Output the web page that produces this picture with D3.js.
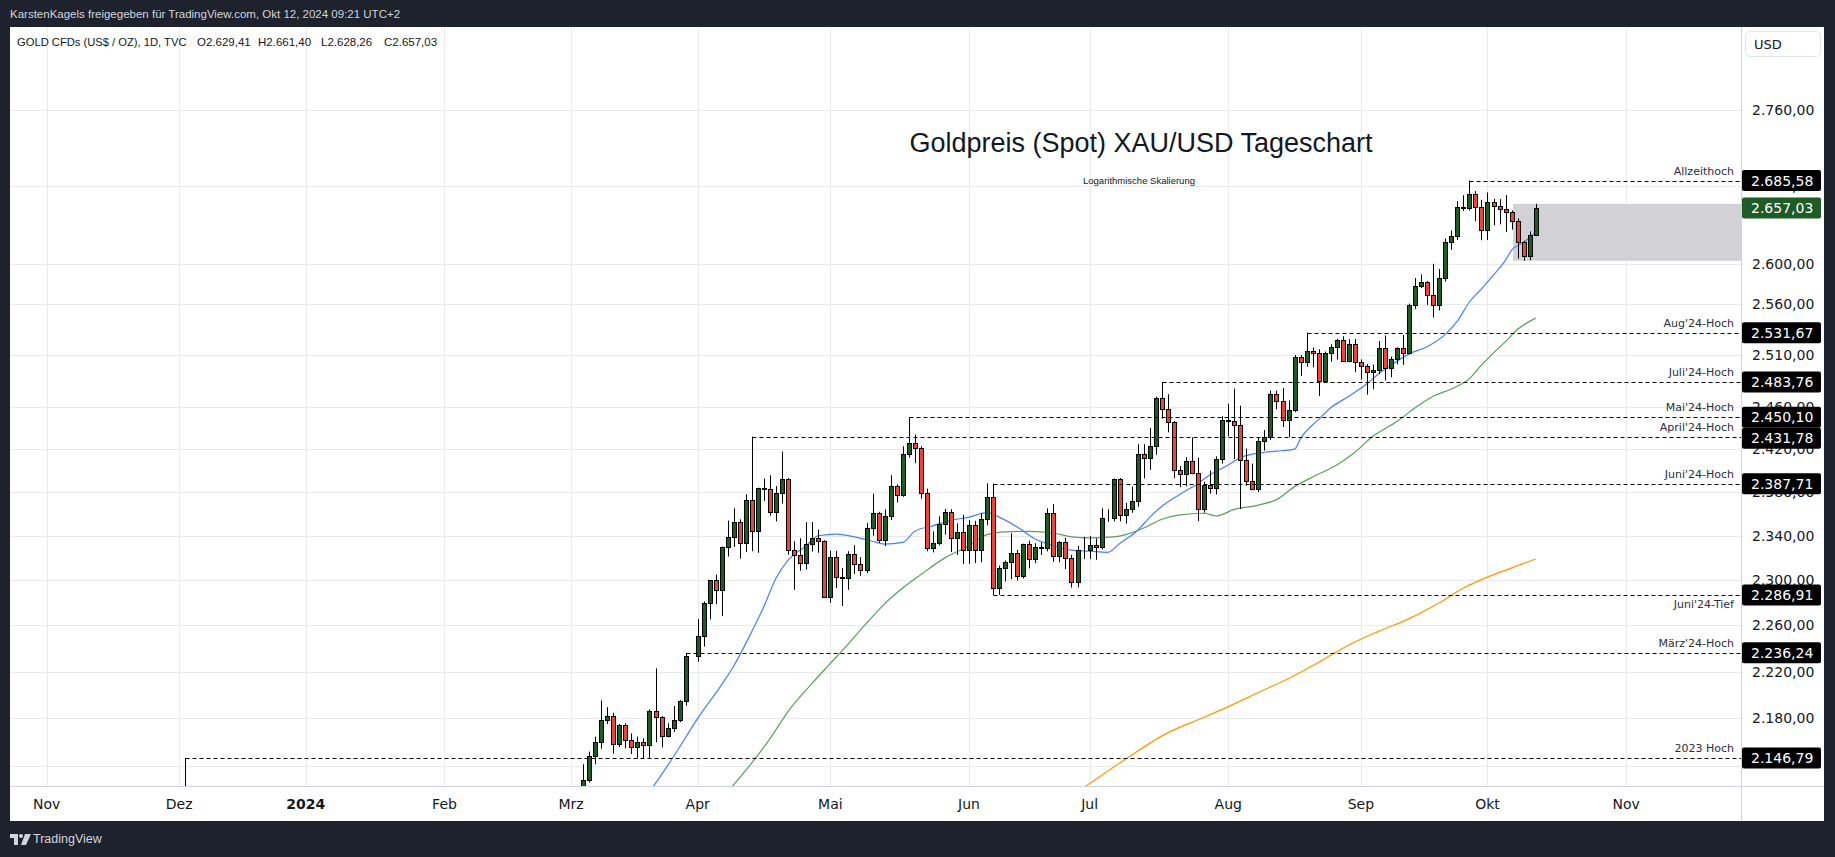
<!DOCTYPE html>
<html>
<head>
<meta charset="utf-8">
<script src="https://cdn.jsdelivr.net/npm/d3@7"></script>
<style>
  body { margin: 0; background: #1e222d; }
  svg { display: block; }
</style>
</head>
<body>
<script>
var w = 1835;
var h = 857;

// daily candles XAU/USD (TVC:GOLD)
const candleDates = [
  "2023-12-04",
  "2024-03-04","2024-03-05","2024-03-06","2024-03-07","2024-03-08",
  "2024-03-11","2024-03-12","2024-03-13","2024-03-14","2024-03-15",
  "2024-03-18","2024-03-19","2024-03-20","2024-03-21","2024-03-22",
  "2024-03-25","2024-03-26","2024-03-27","2024-03-28","2024-03-29",
  "2024-04-01","2024-04-02","2024-04-03","2024-04-04","2024-04-05",
  "2024-04-08","2024-04-09","2024-04-10","2024-04-11","2024-04-12",
  "2024-04-15","2024-04-16","2024-04-17","2024-04-18","2024-04-19",
  "2024-04-22","2024-04-23","2024-04-24","2024-04-25","2024-04-26",
  "2024-04-29","2024-04-30","2024-05-01","2024-05-02","2024-05-03",
  "2024-05-06","2024-05-07","2024-05-08","2024-05-09","2024-05-10",
  "2024-05-13","2024-05-14","2024-05-15","2024-05-16","2024-05-17",
  "2024-05-20","2024-05-21","2024-05-22","2024-05-23","2024-05-24",
  "2024-05-27","2024-05-28","2024-05-29","2024-05-30","2024-05-31",
  "2024-06-03","2024-06-04","2024-06-05","2024-06-06","2024-06-07",
  "2024-06-10","2024-06-11","2024-06-12","2024-06-13","2024-06-14",
  "2024-06-17","2024-06-18","2024-06-19","2024-06-20","2024-06-21",
  "2024-06-24","2024-06-25","2024-06-26","2024-06-27","2024-06-28",
  "2024-07-01","2024-07-02","2024-07-03","2024-07-04","2024-07-05",
  "2024-07-08","2024-07-09","2024-07-10","2024-07-11","2024-07-12",
  "2024-07-15","2024-07-16","2024-07-17","2024-07-18","2024-07-19",
  "2024-07-22","2024-07-23","2024-07-24","2024-07-25","2024-07-26",
  "2024-07-29","2024-07-30","2024-07-31","2024-08-01","2024-08-02",
  "2024-08-05","2024-08-06","2024-08-07","2024-08-08","2024-08-09",
  "2024-08-12","2024-08-13","2024-08-14","2024-08-15","2024-08-16",
  "2024-08-19","2024-08-20","2024-08-21","2024-08-22","2024-08-23",
  "2024-08-26","2024-08-27","2024-08-28","2024-08-29","2024-08-30",
  "2024-09-02","2024-09-03","2024-09-04","2024-09-05","2024-09-06",
  "2024-09-09","2024-09-10","2024-09-11","2024-09-12","2024-09-13",
  "2024-09-16","2024-09-17","2024-09-18","2024-09-19","2024-09-20",
  "2024-09-23","2024-09-24","2024-09-25","2024-09-26","2024-09-27",
  "2024-09-30","2024-10-01","2024-10-02","2024-10-03","2024-10-04",
  "2024-10-07","2024-10-08","2024-10-09","2024-10-10","2024-10-11"
];
const candleOpen = [
  2072.2,
  2083.0,2114.6,2128.3,2148.5,2159.9,
  2178.8,2182.3,2158.2,2174.6,2162.1,
  2155.8,2160.3,2157.5,2186.6,2181.4,
  2165.4,2171.9,2178.6,2194.5,2233.2,
  2233.2,2250.6,2279.6,2299.8,2290.9,
  2329.7,2339.3,2352.4,2333.3,2372.7,
  2344.5,2383.3,2383.0,2361.2,2379.3,
  2391.9,2326.9,2322.4,2315.5,2332.3,
  2337.7,2335.6,2285.5,2320.4,2303.0,
  2301.6,2323.1,2314.5,2309.4,2346.6,
  2360.4,2336.1,2357.7,2385.5,2376.9,
  2415.0,2425.3,2420.9,2379.2,2329.0,
  2333.8,2350.6,2361.5,2337.9,2343.1,
  2326.9,2350.1,2327.0,2355.6,2375.5,
  2293.0,2310.7,2316.5,2324.5,2303.6,
  2332.6,2319.4,2329.9,2328.9,2360.4,
  2321.9,2334.0,2319.8,2298.6,2327.2,
  2326.8,2331.4,2329.5,2356.3,2356.4,
  2391.8,2359.0,2364.0,2371.5,2415.0,
  2411.5,2422.5,2468.8,2458.3,2445.4,
  2400.7,2396.6,2409.0,2397.8,2364.6,
  2386.9,2383.8,2410.6,2447.6,2446.4,
  2442.3,2409.8,2390.3,2382.5,2427.6,
  2431.1,2472.6,2465.3,2447.6,2456.6,
  2507.8,2503.3,2514.2,2512.3,2484.4,
  2512.3,2517.8,2524.4,2504.4,2520.4,
  2503.4,2499.5,2493.2,2495.3,2516.6,
  2497.5,2506.2,2516.3,2511.4,2558.6,
  2577.7,2581.6,2569.1,2559.4,2586.4,
  2622.0,2628.2,2657.7,2657.0,2672.0,
  2658.4,2634.6,2662.8,2658.7,2656.5,
  2653.5,2643.7,2622.3,2607.9,2629.41
];
const candleHigh = [
  2146.79,
  2119.9,2141.5,2152.1,2164.6,2195.2,
  2189.5,2184.7,2175.2,2175.8,2167.3,
  2164.6,2163.3,2187.6,2222.7,2182.0,
  2175.9,2190.5,2195.6,2236.24,2233.2,
  2265.6,2281.1,2300.0,2305.0,2330.2,
  2353.8,2365.0,2354.9,2377.9,2431.78,
  2384.0,2392.4,2395.6,2385.6,2417.6,
  2392.9,2335.0,2337.7,2352.4,2352.5,
  2345.5,2335.8,2326.4,2326.3,2310.8,
  2326.0,2331.4,2320.6,2351.6,2378.5,
  2361.8,2364.0,2395.6,2387.0,2422.6,
  2450.1,2433.6,2422.6,2383.2,2344.0,
  2357.7,2364.5,2364.2,2351.3,2359.1,
  2354.4,2353.6,2360.8,2388.0,2387.71,
  2313.0,2317.6,2342.3,2327.1,2332.8,
  2335.5,2333.3,2333.9,2365.0,2368.8,
  2335.4,2338.1,2322.8,2331.0,2339.0,
  2339.7,2337.6,2365.0,2364.1,2392.4,
  2393.0,2370.0,2385.0,2424.5,2424.6,
  2440.0,2469.7,2483.76,2472.0,2446.5,
  2404.0,2412.5,2431.0,2412.0,2389.5,
  2399.8,2413.2,2451.0,2462.9,2477.5,
  2461.0,2420.4,2406.4,2431.4,2438.0,
  2475.4,2475.4,2478.0,2466.0,2509.9,
  2509.8,2531.67,2517.2,2515.5,2513.2,
  2520.3,2525.7,2528.2,2525.3,2525.5,
  2505.6,2501.2,2500.6,2523.6,2529.0,
  2508.4,2517.5,2529.4,2560.4,2585.9,
  2589.6,2583.0,2600.2,2595.0,2625.8,
  2634.0,2664.1,2670.3,2685.58,2674.6,
  2665.5,2673.1,2666.6,2666.4,2670.4,
  2654.6,2646.4,2623.5,2633.1,2661.40
];
const candleLow = [
  2014.9,
  2078.3,2110.8,2126.5,2141.5,2154.5,
  2175.2,2150.4,2156.0,2154.8,2150.2,
  2146.4,2146.5,2146.4,2160.0,2155.6,
  2164.0,2168.5,2176.8,2190.8,2233.2,
  2228.4,2241.6,2265.3,2278.6,2268.2,
  2321.2,2329.9,2319.3,2325.2,2326.0,
  2324.6,2371.8,2358.2,2353.0,2369.5,
  2322.9,2291.4,2308.5,2309.5,2325.7,
  2324.6,2285.2,2280.0,2293.0,2277.2,
  2291.5,2305.6,2303.9,2306.3,2340.0,
  2333.4,2330.6,2354.3,2370.5,2375.6,
  2412.0,2406.8,2373.8,2326.0,2325.0,
  2331.4,2340.9,2325.2,2322.7,2314.5,
  2314.6,2315.5,2316.0,2349.6,2286.91,
  2286.9,2298.8,2300.9,2299.7,2301.6,
  2310.6,2315.3,2322.6,2326.0,2316.5,
  2316.0,2309.9,2293.5,2293.6,2319.0,
  2318.9,2318.3,2327.6,2352.7,2353.2,
  2353.0,2351.0,2361.0,2366.5,2392.6,
  2400.5,2414.6,2448.6,2435.8,2392.8,
  2384.6,2385.2,2396.5,2353.3,2361.0,
  2378.5,2377.8,2406.5,2432.1,2410.6,
  2364.4,2385.9,2381.7,2380.0,2418.5,
  2428.6,2457.6,2440.7,2431.2,2454.8,
  2489.7,2498.5,2498.0,2470.4,2483.4,
  2503.4,2505.6,2503.9,2502.9,2493.2,
  2486.1,2471.6,2476.8,2491.4,2485.3,
  2488.3,2500.8,2500.3,2510.6,2555.0,
  2575.9,2559.2,2546.6,2553.6,2582.4,
  2614.4,2624.5,2654.0,2654.6,2643.6,
  2624.1,2624.4,2639.4,2640.3,2632.5,
  2634.9,2605.5,2603.3,2603.9,2628.26
];
const candleClose = [
  2029.0,
  2114.6,2128.3,2148.5,2159.9,2178.8,
  2182.3,2158.2,2174.6,2162.1,2155.8,
  2160.3,2157.5,2186.6,2181.4,2165.4,
  2171.9,2178.6,2194.5,2233.2,2233.2,
  2250.6,2279.6,2299.8,2290.9,2329.7,
  2339.3,2352.4,2333.3,2372.7,2344.5,
  2383.3,2383.0,2361.2,2379.3,2391.9,
  2326.9,2322.4,2315.5,2332.3,2337.7,
  2335.6,2285.5,2320.4,2303.0,2301.6,
  2323.1,2314.5,2309.4,2346.6,2360.4,
  2336.1,2357.7,2385.5,2376.9,2415.0,
  2425.3,2420.9,2379.2,2329.0,2333.8,
  2350.6,2361.5,2337.9,2343.1,2326.9,
  2350.1,2327.0,2355.6,2375.5,2293.0,
  2310.7,2316.5,2324.5,2303.6,2332.6,
  2319.4,2329.9,2328.9,2360.4,2321.9,
  2334.0,2319.8,2298.6,2327.2,2326.8,
  2331.4,2329.5,2356.3,2356.4,2391.8,
  2359.0,2364.0,2371.5,2415.0,2411.5,
  2422.5,2468.8,2458.3,2445.4,2400.7,
  2396.6,2409.0,2397.8,2364.6,2386.9,
  2383.8,2410.6,2447.6,2446.4,2442.3,
  2409.8,2390.3,2382.5,2427.6,2431.1,
  2472.6,2465.3,2447.6,2456.6,2507.8,
  2503.3,2514.2,2512.3,2484.4,2512.3,
  2517.8,2524.4,2504.4,2520.4,2503.4,
  2499.5,2493.2,2495.3,2516.6,2497.5,
  2506.2,2516.3,2511.4,2558.6,2577.7,
  2581.6,2569.1,2559.4,2586.4,2622.0,
  2628.2,2657.7,2657.0,2672.0,2658.4,
  2634.6,2662.8,2658.7,2656.5,2653.5,
  2643.7,2622.3,2607.9,2629.4,2657.03
];

// moving averages
const fastMaDates = ["2024-03-19","2024-03-22","2024-03-26","2024-04-01","2024-04-05","2024-04-09","2024-04-12","2024-04-16","2024-04-18","2024-04-22","2024-04-25","2024-04-29","2024-05-02","2024-05-07","2024-05-10","2024-05-14","2024-05-17","2024-05-21","2024-05-24","2024-05-29","2024-06-03","2024-06-06","2024-06-10","2024-06-13","2024-06-18","2024-06-21","2024-06-26","2024-07-01","2024-07-04","2024-07-08","2024-07-11","2024-07-15","2024-07-17","2024-07-22","2024-07-25","2024-07-29","2024-08-01","2024-08-05","2024-08-09","2024-08-13","2024-08-16","2024-08-19","2024-08-22","2024-08-26","2024-08-29","2024-09-03","2024-09-05","2024-09-09","2024-09-12","2024-09-17","2024-09-20","2024-09-24","2024-09-26","2024-09-30","2024-10-02","2024-10-04","2024-10-07","2024-10-09","2024-10-11"];
const fastMaValues = [2112,2133,2148,2180,2209,2225,2255,2277,2302,2318,2331,2340,2341.5,2339,2335,2332.5,2334,2344,2349,2354,2357,2361,2357,2348,2337,2331,2327,2326,2325,2333,2345,2357,2367,2378,2388,2396,2405,2412,2417,2418,2420,2430,2448,2459,2470,2482,2492,2500,2511,2518,2530,2543,2562,2575,2589,2604,2614,2622,2632];

const slowMaDates = ["2024-04-08","2024-04-12","2024-04-17","2024-04-22","2024-04-26","2024-05-01","2024-05-06","2024-05-09","2024-05-14","2024-05-17","2024-05-22","2024-05-28","2024-06-03","2024-06-06","2024-06-11","2024-06-17","2024-06-21","2024-06-26","2024-07-01","2024-07-05","2024-07-09","2024-07-12","2024-07-17","2024-07-22","2024-07-26","2024-07-30","2024-08-02","2024-08-08","2024-08-13","2024-08-16","2024-08-21","2024-08-27","2024-08-30","2024-09-04","2024-09-10","2024-09-13","2024-09-18","2024-09-23","2024-09-26","2024-09-30","2024-10-02","2024-10-04","2024-10-08","2024-10-11"];
const slowMaValues = [2119,2143,2163,2186,2210,2227,2244,2262,2279,2293,2305,2320,2331,2341,2343.5,2344,2342.5,2339,2338,2339,2341,2347,2355,2359,2360.5,2358,2364,2368,2373,2385,2394,2405,2417,2432,2446,2459,2470,2477,2487,2500,2512,2523,2535,2546];

const longMaDates = ["2024-06-27","2024-07-02","2024-07-09","2024-07-18","2024-07-26","2024-08-01","2024-08-08","2024-08-15","2024-08-22","2024-08-29","2024-09-05","2024-09-12","2024-09-19","2024-09-25","2024-10-02","2024-10-07","2024-10-11"];
const longMaValues = [2119,2129,2146,2168,2181,2190,2202,2214,2228,2243,2255,2266,2280,2293,2305,2311,2319];

// horizontal levels drawn on the chart
const levelNames = ["Allzeithoch","Aug'24-Hoch","Juli'24-Hoch","Mai'24-Hoch","April'24-Hoch","Juni'24-Hoch","Juni'24-Tief","März'24-Hoch","2023 Hoch"];
const levelValues = [2685.58,2531.67,2483.76,2450.10,2431.78,2387.71,2286.91,2236.24,2146.79];
const levelStarts = ["2024-09-26","2024-08-20","2024-07-17","2024-05-20","2024-04-12","2024-06-07","2024-06-07","2024-03-28","2023-12-04"];
const levelBelow = [false,false,false,false,false,false,true,false,false];

// grey range box
const boxStart = "2024-10-07";
const boxTop = 2661.40;
const boxBottom = 2603.3;

const lastClose = 2657.03;

const priceTicks = [2760,2680,2600,2560,2510,2460,2420,2380,2340,2300,2260,2220,2180,2140];
const priceTickLabels = [2760,2680,2600,2560,2510,2460,2420,2380,2340,2300,2260,2220,2180];
const monthDates = ["2023-11-01","2023-12-01","2024-01-01","2024-02-01","2024-03-01","2024-04-01","2024-05-01","2024-06-03","2024-07-01","2024-08-01","2024-09-02","2024-10-01","2024-11-01"];
const monthLabels = ["Nov","Dez","2024","Feb","Mrz","Apr","Mai","Jun","Jul","Aug","Sep","Okt","Nov"];

const headerText = "KarstenKagels freigegeben für TradingView.com, Okt 12, 2024 09:21 UTC+2";
const legendName = "GOLD CFDs (US$ / OZ), 1D, TVC";
const legendOhlc = ["O2.629,41","H2.661,40","L2.628,26","C2.657,03"];
const titleText = "Goldpreis (Spot) XAU/USD Tageschart";
const subtitleText = "Logarithmische Skalierung";

// trading day index (weekdays since 1 Nov 2023)
function tradeIndex(s) {
  var end = Date.parse(s + "T00:00:00Z");
  var n = 0;
  for (var t = Date.UTC(2023, 10, 1); t < end; t += 86400000) {
    var wd = new Date(t).getUTCDay();
    if (wd !== 0 && wd !== 6) n++;
  }
  return n;
}

var de = d3.formatLocale({decimal: ",", thousands: ".", grouping: [3], currency: ["", " $"]});
var fmt = de.format(",.2f");

// layout (window.top is read-only, so use other names)
var plotL = 10, plotT = 27, plotR = 1741, plotB = 786;
var outerR = 1824, outerB = 821;
var axisFont = "DejaVu Sans, sans-serif";
var textFont = "Liberation Sans, Arial, sans-serif";

var x = d3.scaleLinear()
          .domain([-6.07, 281.05])
          .range([plotL, plotR]);

var y = d3.scaleLog()
          .domain([2123.6, 2850.3])
          .range([plotB, plotT]);

var svg = d3.select("body")
            .append("svg")
            .attr("width", w)
            .attr("height", h);

svg.append("rect").attr("width", w).attr("height", h).attr("fill", "#1e222d");
svg.append("rect")
   .attr("x", plotL).attr("y", plotT)
   .attr("width", outerR - plotL).attr("height", outerB - plotT)
   .attr("fill", "#ffffff");

svg.append("defs").append("clipPath").attr("id", "plot")
   .append("rect").attr("x", plotL).attr("y", plotT)
   .attr("width", plotR - plotL).attr("height", plotB - plotT);

var plot = svg.append("g").attr("clip-path", "url(#plot)");

// grid
plot.selectAll(".hgrid")
    .data(priceTicks)
    .enter()
    .append("line")
    .attr("x1", plotL).attr("x2", plotR)
    .attr("y1", d => Math.round(y(d)) + 0.5)
    .attr("y2", d => Math.round(y(d)) + 0.5)
    .attr("stroke", "#e8eaf0");

plot.selectAll(".vgrid")
    .data(monthDates)
    .enter()
    .append("line")
    .attr("x1", d => Math.round(x(tradeIndex(d))) + 0.5)
    .attr("x2", d => Math.round(x(tradeIndex(d))) + 0.5)
    .attr("y1", plotT).attr("y2", plotB)
    .attr("stroke", "#e8eaf0");

// grey box
plot.append("rect")
    .attr("x", x(tradeIndex(boxStart)) + 1.5)
    .attr("y", y(boxTop))
    .attr("width", plotR - x(tradeIndex(boxStart)))
    .attr("height", y(boxBottom) - y(boxTop))
    .attr("fill", "#d1d1d6");

// moving averages
function maLine(dates, values, color) {
  var pts = dates.map((d, i) => [x(tradeIndex(d)), y(values[i])]);
  plot.append("path")
      .attr("d", d3.line().curve(d3.curveMonotoneX)(pts))
      .attr("fill", "none")
      .attr("stroke", color)
      .attr("stroke-width", 1.2);
}
maLine(longMaDates, longMaValues, "#ff9800");
maLine(slowMaDates, slowMaValues, "#5c9e5c");
maLine(fastMaDates, fastMaValues, "#4a7dff");

// candles
var candles = candleDates.map((d, i) => ({
  cx: Math.round(x(tradeIndex(d))) + 0.5,
  o: candleOpen[i], hi: candleHigh[i], lo: candleLow[i], c: candleClose[i]
}));

plot.selectAll(".wick")
    .data(candles)
    .enter()
    .append("line")
    .attr("x1", d => d.cx).attr("x2", d => d.cx)
    .attr("y1", d => y(d.hi)).attr("y2", d => y(d.lo))
    .attr("stroke", "#000")
    .attr("stroke-width", 1);

plot.selectAll(".body")
    .data(candles)
    .enter()
    .append("rect")
    .attr("x", d => d.cx - 2)
    .attr("width", 4)
    .attr("y", d => Math.round(y(Math.max(d.o, d.c))) + 0.5)
    .attr("height", d => Math.max(0, Math.round(y(Math.min(d.o, d.c))) - Math.round(y(Math.max(d.o, d.c)))))
    .attr("fill", d => d.c >= d.o ? "#1b5e20" : "#f44336")
    .attr("stroke", "#000")
    .attr("stroke-width", 1);

// dashed levels
plot.selectAll(".level")
    .data(levelValues)
    .enter()
    .append("line")
    .attr("x1", (d, i) => Math.round(x(tradeIndex(levelStarts[i]))) + 0.5)
    .attr("x2", plotR)
    .attr("y1", d => Math.round(y(d)) + 0.5)
    .attr("y2", d => Math.round(y(d)) + 0.5)
    .attr("stroke", "#000")
    .attr("stroke-width", 1)
    .attr("stroke-dasharray", "4,3");

plot.selectAll(".levelText")
    .data(levelValues)
    .enter()
    .append("text")
    .attr("x", plotR - 7)
    .attr("y", (d, i) => y(d) + (levelBelow[i] ? 13 : -6))
    .attr("text-anchor", "end")
    .attr("font-family", axisFont)
    .attr("font-size", 11)
    .attr("fill", "#2a2e39")
    .text((d, i) => levelNames[i]);

// title
svg.append("text")
   .attr("x", 1141).attr("y", 143)
   .attr("text-anchor", "middle")
   .attr("dominant-baseline", "central")
   .attr("font-family", textFont)
   .attr("font-size", 27)
   .attr("fill", "#131722")
   .text(titleText);

svg.append("text")
   .attr("x", 1139).attr("y", 180)
   .attr("text-anchor", "middle")
   .attr("dominant-baseline", "central")
   .attr("font-family", textFont)
   .attr("font-size", 9.5)
   .attr("fill", "#131722")
   .text(subtitleText);

// legend
svg.append("text")
   .attr("x", 17).attr("y", 42)
   .attr("dominant-baseline", "central")
   .attr("font-family", textFont)
   .attr("font-size", 11.2)
   .attr("fill", "#131722")
   .text(legendName);

svg.selectAll(".ohlc")
   .data(legendOhlc)
   .enter()
   .append("text")
   .attr("x", (d, i) => [197, 258, 321, 384][i])
   .attr("y", 42)
   .attr("dominant-baseline", "central")
   .attr("font-family", textFont)
   .attr("font-size", 11.5)
   .attr("fill", "#131722")
   .text(d => d);

// header
svg.append("text")
   .attr("x", 10).attr("y", 14)
   .attr("dominant-baseline", "central")
   .attr("font-family", textFont)
   .attr("font-size", 11.5)
   .attr("fill", "#d1d4dc")
   .text(headerText);

// axes separators
svg.append("line")
   .attr("x1", plotR + 0.5).attr("x2", plotR + 0.5)
   .attr("y1", plotT).attr("y2", outerB)
   .attr("stroke", "#d1d4dc");
svg.append("line")
   .attr("x1", plotL).attr("x2", outerR)
   .attr("y1", plotB + 0.5).attr("y2", plotB + 0.5)
   .attr("stroke", "#d1d4dc");

// price axis ticks
svg.selectAll(".ptick")
   .data(priceTickLabels)
   .enter()
   .append("text")
   .attr("x", 1752)
   .attr("y", d => y(d))
   .attr("dominant-baseline", "central")
   .attr("font-family", axisFont)
   .attr("font-size", 14)
   .attr("fill", "#131722")
   .text(d => fmt(d));

// level labels on price axis, pushed apart when they would overlap
var tags = levelValues.map(v => ({v: v, fill: "#000"}));
tags.push({v: lastClose, fill: "#1e5b25"});
tags.sort((a, b) => y(a.v) - y(b.v));
var lastY = -Infinity;
tags.forEach(t => {
  t.ty = Math.max(y(t.v), lastY + 21);
  lastY = t.ty;
});

var tag = svg.selectAll(".tag")
             .data(tags)
             .enter()
             .append("g");
tag.append("rect")
   .attr("x", plotR + 1)
   .attr("y", d => d.ty - 10.5)
   .attr("width", 79)
   .attr("height", 21)
   .attr("rx", 2)
   .attr("fill", d => d.fill);
tag.append("text")
   .attr("x", 1751)
   .attr("y", d => d.ty)
   .attr("dominant-baseline", "central")
   .attr("font-family", axisFont)
   .attr("font-size", 14)
   .attr("fill", "#fff")
   .text(d => fmt(d.v));

// USD button
svg.append("rect")
   .attr("x", 1745.5).attr("y", 31.5)
   .attr("width", 75).attr("height", 25)
   .attr("rx", 4)
   .attr("fill", "#fff")
   .attr("stroke", "#e0e3eb");
svg.append("text")
   .attr("x", 1754).attr("y", 44)
   .attr("dominant-baseline", "central")
   .attr("font-family", axisFont)
   .attr("font-size", 13)
   .attr("fill", "#131722")
   .text("USD");

// time axis
svg.selectAll(".mtick")
   .data(monthDates)
   .enter()
   .append("text")
   .attr("x", d => x(tradeIndex(d)))
   .attr("y", 804)
   .attr("text-anchor", "middle")
   .attr("dominant-baseline", "central")
   .attr("font-family", axisFont)
   .attr("font-size", 14)
   .attr("font-weight", (d, i) => monthLabels[i] === "2024" ? "bold" : "normal")
   .attr("fill", "#131722")
   .text((d, i) => monthLabels[i]);

// TradingView logo
var logo = svg.append("g").attr("fill", "#d1d4dc");
logo.append("path").attr("d", "M10 834 h8 v11 h-4 v-7 h-4 z");
logo.append("circle").attr("cx", 21).attr("cy", 836).attr("r", 2);
logo.append("path").attr("d", "M25 834 h6 l-5 11 h-5 z");
svg.append("text")
   .attr("x", 33).attr("y", 839)
   .attr("dominant-baseline", "central")
   .attr("font-family", textFont)
   .attr("font-size", 12.5)
   .attr("fill", "#d1d4dc")
   .text("TradingView");
</script>
</body>
</html>
